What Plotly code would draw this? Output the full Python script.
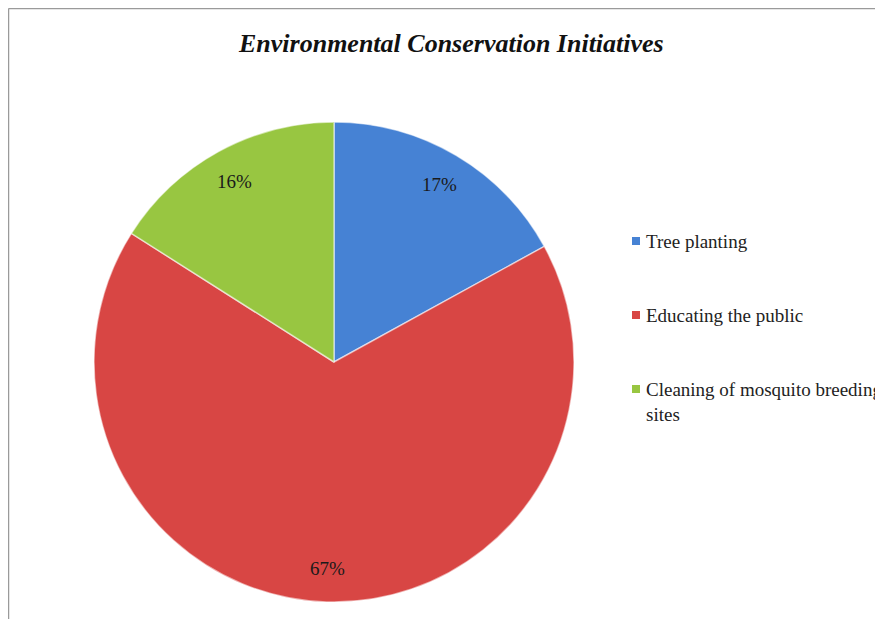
import math
import plotly.graph_objects as go

W, H = 883, 619
OFF = 8  # page body margin in the browser

categories = ["Tree planting", "Educating the public", "Cleaning of mosquito breeding sites"]
legend_labels = ["Tree planting", "Educating the public", "Cleaning of mosquito breeding<br>sites"]
values = [17, 67, 16]
colors = ["#4682D4", "#D84644", "#98C641"]
title_text = "Environmental Conservation Initiatives"


def fx(px):
    return (px - OFF) / W


def fy(py):
    return 1 - (py - OFF) / H


# pie geometry (screen pixels)
cx, cy, R = 334, 362, 240

fig = go.Figure()
fig.add_trace(go.Pie(
    labels=categories,
    values=values,
    sort=False,
    direction="clockwise",
    rotation=0,
    textinfo="none",
    hoverinfo="label+percent",
    marker=dict(colors=colors, line=dict(color="rgba(255,255,255,0.55)", width=1.5)),
    domain=dict(x=[fx(cx - R), fx(cx + R)], y=[fy(cy + R), fy(cy - R)]),
    showlegend=False,
))

annotations = []
total = sum(values)
cum = 0
for v in values:
    mid = (cum + v / 2) / total * 2 * math.pi
    cum += v
    px = cx + 0.86 * R * math.sin(mid)
    py = cy - 0.86 * R * math.cos(mid)
    annotations.append(dict(
        x=fx(px), y=fy(py), xref="paper", yref="paper",
        text=f"{round(v / total * 100)}%", showarrow=False,
        font=dict(family="Liberation Serif", size=19, color="#1a1a1a"),
        xanchor="center", yanchor="middle",
    ))

shapes = []
leg_x, leg_y0, leg_dy = 636, 241, 74
for i, (lab, col) in enumerate(zip(legend_labels, colors)):
    ly = leg_y0 + i * leg_dy
    shapes.append(dict(type="rect", xref="paper", yref="paper",
                       x0=fx(leg_x - 4), x1=fx(leg_x + 4),
                       y0=fy(ly + 4), y1=fy(ly - 4),
                       fillcolor=col, line=dict(color=col, width=0)))
    annotations.append(dict(
        x=fx(leg_x + 8), y=fy(ly - 12), xref="paper", yref="paper",
        text=lab, showarrow=False, align="left",
        font=dict(family="Liberation Serif", size=19, color="#222222"),
        xanchor="left", yanchor="top",
    ))

annotations.append(dict(
    x=fx(451), y=fy(43), xref="paper", yref="paper",
    text=f"<b><i>{title_text}</i></b>", showarrow=False,
    font=dict(family="Liberation Serif", size=26, color="#111111"),
    xanchor="center", yanchor="middle",
))

# outer chart border (top and left visible)
shapes.append(dict(type="line", xref="paper", yref="paper",
                   x0=fx(8.5), x1=1.05, y0=fy(8.5), y1=fy(8.5),
                   line=dict(color="#9a9a9a", width=1.5)))
shapes.append(dict(type="line", xref="paper", yref="paper",
                   x0=fx(8.5), x1=fx(8.5), y0=fy(8.5), y1=-0.05,
                   line=dict(color="#9a9a9a", width=1.5)))

fig.update_layout(
    width=W, height=H,
    margin=dict(l=0, r=0, t=0, b=0),
    paper_bgcolor="white",
    plot_bgcolor="white",
    annotations=annotations,
    shapes=shapes,
    showlegend=False,
)

fig.write_html("out.html")
